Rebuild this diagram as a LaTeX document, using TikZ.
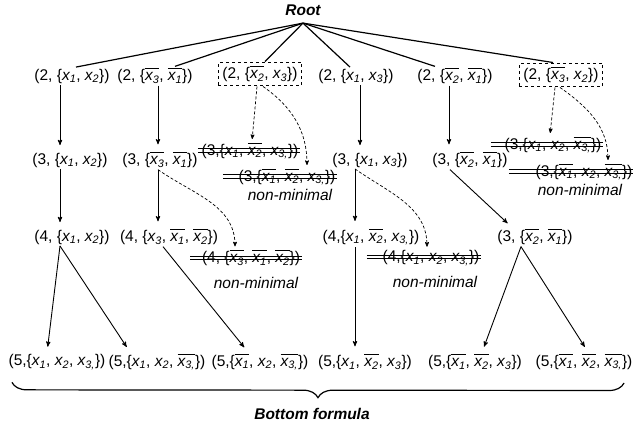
\documentclass[tikz,border=0pt]{standalone}
\usepackage{fontspec}
\setmainfont{Liberation Sans}
\usepackage{tikz}
\usetikzlibrary{calc}
\usetikzlibrary{arrows}
\usetikzlibrary{decorations.pathreplacing}

\newcommand{\xv}[1]{\textit{x\textsubscript{#1}}}
\newcommand{\nx}[1]{$\overline{\mbox{\vphantom{T}\xv{#1}}}$}
\tikzset{lbl/.style={inner sep=1.5pt, font=\fontsize{15.5}{18}\selectfont}}
\tikzset{cand/.style={lbl, draw, dashed, line width=1.1pt, inner sep=4pt}}
\tikzset{nm/.style={lbl, font=\fontsize{15.5}{18}\selectfont\itshape}}
\tikzset{bnm/.style={lbl, font=\fontsize{15.5}{18}\selectfont\bfseries\itshape}}
\tikzset{arr/.style={->, >=stealth', line width=0.9pt, shorten >=6pt}}
\tikzset{darr/.style={->, >=stealth', densely dashed, line width=0.7pt, shorten >=2pt}}
\tikzset{strike/.style={line width=0.8pt}}

\begin{document}
\begin{tikzpicture}[x=1pt, y=-1pt]
\useasboundingbox (0,0) rectangle (633,429);
\node[bnm] (Root) at (303,10) {Root};
\coordinate (apex) at ([yshift=-6pt]Root.south);

\node[lbl] (A2) at (72,76) {(2, \{\xv{1}, \xv{2}\})};
\node[lbl] (B2) at (155,76) {(2, \{\nx{3}, \nx{1}\})};
\node[cand] (C2) at (260,74) {(2, \{\nx{2}, \xv{3}\})};
\node[lbl] (D2) at (356,76) {(2, \{\xv{1}, \xv{3}\})};
\node[lbl] (E2) at (455,76) {(2, \{\nx{2}, \nx{1}\})};
\node[cand] (F2) at (561,75) {(2, \{\nx{3}, \xv{2}\})};

\node[lbl] (A3) at (70,160) {(3, \{\xv{1}, \xv{2}\})};
\node[lbl] (B3) at (160,160) {(3, \{\nx{3}, \nx{1}\})};
\node[lbl] (C3a) at (250,151) {(3,\{\xv{1}, \nx{2}, \xv{3,}\})};
\node[lbl] (C3b) at (287,177) {(3,\{\nx{1}, \nx{2}, \xv{3,}\})};
\node[nm] (nm1) at (290,195) {non-minimal};
\node[lbl] (D3) at (370,160) {(3, \{\xv{1}, \xv{3}\})};
\node[lbl] (E3) at (470,160) {(3, \{\nx{2}, \nx{1}\})};
\node[lbl] (F3a) at (553,145) {(3,\{\xv{1}, \xv{2}, \nx{3,}\})};
\node[lbl] (F3b) at (584,172) {(3,\{\nx{1}, \xv{2}, \nx{3,}\})};
\node[nm] (nm2) at (580,190) {non-minimal};

\node[lbl] (A4) at (72,237) {(4, \{\xv{1}, \xv{2}\})};
\node[lbl] (B4) at (169,237) {(4, \{\xv{3}, \nx{1}, \nx{2}\})};
\node[lbl] (B4s) at (251,258) {(4, \{\nx{3}, \nx{1}, \nx{2}\})};
\node[nm] (nm3) at (256,283) {non-minimal};
\node[lbl] (D4) at (371,237) {(4,\{\xv{1}, \nx{2}, \xv{3,}\})};
\node[lbl] (D4s) at (431,258) {(4,\{\xv{1}, \xv{2}, \xv{3,}\})};
\node[nm] (nm4) at (435,282) {non-minimal};
\node[lbl] (E4) at (535,237) {(3, \{\nx{2}, \nx{1}\})};

\node[lbl] (G1) at (57,362) {(5,\{\xv{1}, \xv{2}, \xv{3,}\})};
\node[lbl] (G2) at (157,362) {(5,\{\xv{1}, \xv{2}, \nx{3,}\})};
\node[lbl] (G3) at (260,362) {(5,\{\nx{1}, \xv{2}, \nx{3,}\})};
\node[lbl] (G4) at (365,362) {(5,\{\xv{1}, \nx{2}, \xv{3}\})};
\node[lbl] (G5) at (475,362) {(5,\{\nx{1}, \nx{2}, \xv{3}\})};
\node[lbl] (G6) at (584,362) {(5,\{\nx{1}, \nx{2}, \nx{3,}\})};
\node[bnm] (Bot) at (312,414) {Bottom formula};

\draw[line width=1.2pt] (apex) -- ([xshift=4pt]A2.north);
\draw[line width=1.2pt] (apex) -- ([xshift=20pt]B2.north);
\draw[line width=1.2pt] (apex) -- ([xshift=5pt]C2.north);
\draw[line width=1.2pt] (apex) -- ([xshift=-6pt]D2.north);
\draw[line width=1.2pt] (apex) -- ([xshift=-20pt]E2.north);
\draw[line width=1.2pt] (apex) -- ([xshift=-8pt]F2.north);

\draw[arr] ([xshift=-12pt]A2.south) -- ([xshift=-10pt]A3.north);
\draw[arr] ([xshift=3pt]B2.south) -- ([xshift=-2pt]B3.north);
\draw[arr] ([xshift=4pt]D2.south) -- ([xshift=-10pt]D3.north);
\draw[arr] ([xshift=-6pt]E2.south) -- ([xshift=-21pt]E3.north);
\draw[darr] ([xshift=-3pt]C2.south) -- ([xshift=2pt]C3a.north);
\draw[darr] ([xshift=3pt]C2.south) to[out=-35,in=90] ([xshift=20pt]C3b.north);
\draw[darr] ([xshift=-6pt]F2.south) -- ([xshift=-3pt]F3a.north);
\draw[darr] ([xshift=-1pt]F2.south) to[out=-35,in=90] ([xshift=24pt]F3b.north);

\draw[arr] ([xshift=-10pt]A3.south) -- ([xshift=-12pt]A4.north);
\draw[arr] ([xshift=-2pt]B3.south) -- ([xshift=-11pt]B4.north);
\draw[arr] ([xshift=-15pt]D3.south) -- ([xshift=-16pt]D4.north);
\draw[arr] ([xshift=-20pt]E3.south) -- ([xshift=-23pt]E4.north);
\draw[darr] ([xshift=-2pt]B3.south) to[out=-35,in=90] ([xshift=-16pt]B4s.north);
\draw[darr] ([xshift=-15pt]D3.south) to[out=-35,in=90] ([xshift=-4pt]D4s.north);

\draw[arr] ([xshift=-12pt]A4.south) -- ([xshift=-10pt]G1.north);
\draw[arr] ([xshift=-12pt]A4.south) -- ([xshift=-27pt]G2.north);
\draw[arr] ([xshift=-6pt]B4.south) -- ([xshift=-12pt]G3.north);
\draw[arr] ([xshift=-16pt]D4.south) -- ([xshift=-10pt]G4.north);
\draw[arr] ([xshift=-14pt]E4.south) -- ([xshift=7pt]G5.north);
\draw[arr] ([xshift=-14pt]E4.south) -- ([xshift=4pt]G6.north);

\draw[strike] ([xshift=-2pt,yshift=3pt]C3a.base west) -- ([yshift=3pt]C3a.base east);
\draw[strike] ([xshift=-2pt,yshift=6.5pt]C3a.base west) -- ([yshift=6.5pt]C3a.base east);
\draw[strike] ([xshift=-14pt,yshift=3pt]C3b.base west) -- ([yshift=3pt]C3b.base east);
\draw[strike] ([xshift=-14pt,yshift=6.5pt]C3b.base west) -- ([yshift=6.5pt]C3b.base east);
\draw[strike] ([xshift=-12pt,yshift=3pt]F3a.base west) -- ([yshift=3pt]F3a.base east);
\draw[strike] ([xshift=-12pt,yshift=6.5pt]F3a.base west) -- ([yshift=6.5pt]F3a.base east);
\draw[strike] ([xshift=-25pt,yshift=3pt]F3b.base west) -- ([yshift=3pt]F3b.base east);
\draw[strike] ([xshift=-25pt,yshift=6.5pt]F3b.base west) -- ([yshift=6.5pt]F3b.base east);
\draw[strike] ([xshift=-10pt,yshift=3pt]B4s.base west) -- ([yshift=3pt]B4s.base east);
\draw[strike] ([xshift=-10pt,yshift=6.5pt]B4s.base west) -- ([yshift=6.5pt]B4s.base east);
\draw[strike] ([xshift=-14pt,yshift=3pt]D4s.base west) -- ([yshift=3pt]D4s.base east);
\draw[strike] ([xshift=-14pt,yshift=6.5pt]D4s.base west) -- ([yshift=6.5pt]D4s.base east);

\draw[line width=1.2pt, decorate, decoration={brace, mirror, amplitude=15pt}] ([xshift=5pt,yshift=-11pt]G1.south west) -- ([xshift=-10pt,yshift=-11pt]G6.south east);
\end{tikzpicture}
\end{document}
